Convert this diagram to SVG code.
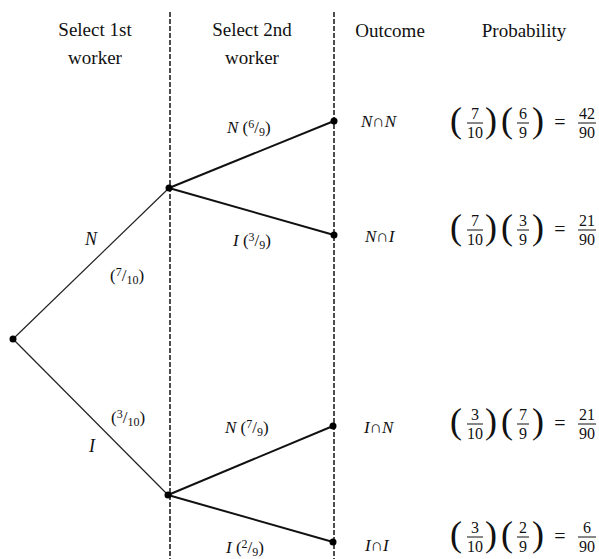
<svg xmlns="http://www.w3.org/2000/svg" width="599" height="559" viewBox="0 0 599 559">
<style>
text{font-family:"Liberation Serif","DejaVu Serif",serif;fill:#111}
.hd{font-size:19px;text-anchor:middle}
.lb{font-size:17px}
.big{font-size:18px}
.it{font-style:italic}
.sm{font-size:12px}
.oc{font-size:17px}
.fr{font-size:16px;text-anchor:middle}
.pr{font-size:36px}
.eq{font-size:20px;text-anchor:middle}
.dash{stroke:#222;stroke-width:1.6;stroke-dasharray:5 2;fill:none}
.b1{stroke:#222;stroke-width:1.2;fill:none}
.b2{stroke:#111;stroke-width:2;fill:none}
.bar{stroke:#111;stroke-width:1}
.dot{fill:#000}
</style>
<rect width="599" height="559" fill="#fff"/>
<g id="headers">
<text class="hd" x="95" y="36">Select 1st</text>
<text class="hd" x="95" y="64">worker</text>
<text class="hd" x="252" y="36">Select 2nd</text>
<text class="hd" x="252" y="64">worker</text>
<text class="hd" x="390" y="37">Outcome</text>
<text class="hd" x="524" y="37">Probability</text>
</g>
<g id="dividers">
<line class="dash" x1="170" y1="12" x2="170" y2="559"/>
<line class="dash" x1="334" y1="12" x2="334" y2="559"/>
</g>
<g id="connectors">
<line class="b1" x1="13" y1="339" x2="169" y2="188"/>
<line class="b1" x1="13" y1="339" x2="168" y2="495"/>
<line class="b2" x1="169" y1="188" x2="334" y2="121"/>
<line class="b2" x1="169" y1="188" x2="334" y2="235"/>
<line class="b2" x1="168" y1="495" x2="333" y2="426"/>
<line class="b2" x1="168" y1="495" x2="333" y2="542"/>
</g>
<g id="branch-labels">
<text class="big it" x="85" y="245">N</text>
<text class="lb" x="110" y="281">(<tspan class="sm" dy="-5">7</tspan><tspan dy="5">/</tspan><tspan class="sm" dy="3">10</tspan><tspan dy="-3">)</tspan></text>
<text class="lb" x="111" y="423">(<tspan class="sm" dy="-5">3</tspan><tspan dy="5">/</tspan><tspan class="sm" dy="3">10</tspan><tspan dy="-3">)</tspan></text>
<text class="big it" x="89" y="452">I</text>
<text class="lb" x="227" y="133"><tspan class="it">N</tspan> (<tspan class="sm" dy="-5">6</tspan><tspan dy="5">/</tspan><tspan class="sm" dy="3">9</tspan><tspan dy="-3">)</tspan></text>
<text class="lb" x="233" y="246"><tspan class="it">I</tspan> (<tspan class="sm" dy="-5">3</tspan><tspan dy="5">/</tspan><tspan class="sm" dy="3">9</tspan><tspan dy="-3">)</tspan></text>
<text class="lb" x="225" y="433"><tspan class="it">N</tspan> (<tspan class="sm" dy="-5">7</tspan><tspan dy="5">/</tspan><tspan class="sm" dy="3">9</tspan><tspan dy="-3">)</tspan></text>
<text class="lb" x="226" y="553"><tspan class="it">I</tspan> (<tspan class="sm" dy="-5">2</tspan><tspan dy="5">/</tspan><tspan class="sm" dy="3">9</tspan><tspan dy="-3">)</tspan></text>
</g>
<g id="root"><circle class="dot" cx="13" cy="339" r="3.5"/></g>
<g id="node-N"><circle class="dot" cx="169" cy="188" r="3.5"/></g>
<g id="node-I"><circle class="dot" cx="168" cy="495" r="3.5"/></g>
<g id="out-NN"><circle class="dot" cx="334" cy="121" r="3.5"/>
<text class="oc" x="361" y="127"><tspan class="it">N</tspan>∩<tspan class="it">N</tspan></text></g>
<g id="out-NI"><circle class="dot" cx="334" cy="235" r="3.5"/>
<text class="oc" x="365" y="242"><tspan class="it">N</tspan>∩<tspan class="it">I</tspan></text></g>
<g id="out-IN"><circle class="dot" cx="333" cy="426" r="3.5"/>
<text class="oc" x="364" y="433"><tspan class="it">I</tspan>∩<tspan class="it">N</tspan></text></g>
<g id="out-II"><circle class="dot" cx="333" cy="542" r="3.5"/>
<text class="oc" x="365" y="551"><tspan class="it">I</tspan>∩<tspan class="it">I</tspan></text></g>
<g id="prob-NN" transform="translate(0,123)">
<text class="pr" x="450" y="8.5">(</text><text class="fr" x="475" y="-4">7</text><line class="bar" x1="467" y1="0" x2="483" y2="0"/><text class="fr" x="475" y="15">10</text><text class="pr" x="485" y="8.5">)</text>
<text class="pr" x="501" y="8.5">(</text><text class="fr" x="523" y="-4">6</text><line class="bar" x1="517" y1="0" x2="529" y2="0"/><text class="fr" x="523" y="15">9</text><text class="pr" x="532" y="8.5">)</text>
<text class="eq" x="560" y="6">=</text>
<text class="fr" x="587" y="-4">42</text><line class="bar" x1="578" y1="0" x2="596" y2="0"/><text class="fr" x="587" y="15">90</text>
</g>
<g id="prob-NI" transform="translate(0,230)">
<text class="pr" x="450" y="8.5">(</text><text class="fr" x="475" y="-4">7</text><line class="bar" x1="467" y1="0" x2="483" y2="0"/><text class="fr" x="475" y="15">10</text><text class="pr" x="485" y="8.5">)</text>
<text class="pr" x="501" y="8.5">(</text><text class="fr" x="523" y="-4">3</text><line class="bar" x1="517" y1="0" x2="529" y2="0"/><text class="fr" x="523" y="15">9</text><text class="pr" x="532" y="8.5">)</text>
<text class="eq" x="560" y="6">=</text>
<text class="fr" x="587" y="-4">21</text><line class="bar" x1="578" y1="0" x2="596" y2="0"/><text class="fr" x="587" y="15">90</text>
</g>
<g id="prob-IN" transform="translate(0,424)">
<text class="pr" x="450" y="8.5">(</text><text class="fr" x="475" y="-4">3</text><line class="bar" x1="467" y1="0" x2="483" y2="0"/><text class="fr" x="475" y="15">10</text><text class="pr" x="485" y="8.5">)</text>
<text class="pr" x="501" y="8.5">(</text><text class="fr" x="523" y="-4">7</text><line class="bar" x1="517" y1="0" x2="529" y2="0"/><text class="fr" x="523" y="15">9</text><text class="pr" x="532" y="8.5">)</text>
<text class="eq" x="560" y="6">=</text>
<text class="fr" x="587" y="-4">21</text><line class="bar" x1="578" y1="0" x2="596" y2="0"/><text class="fr" x="587" y="15">90</text>
</g>
<g id="prob-II" transform="translate(0,537)">
<text class="pr" x="450" y="8.5">(</text><text class="fr" x="475" y="-4">3</text><line class="bar" x1="467" y1="0" x2="483" y2="0"/><text class="fr" x="475" y="15">10</text><text class="pr" x="485" y="8.5">)</text>
<text class="pr" x="501" y="8.5">(</text><text class="fr" x="523" y="-4">2</text><line class="bar" x1="517" y1="0" x2="529" y2="0"/><text class="fr" x="523" y="15">9</text><text class="pr" x="532" y="8.5">)</text>
<text class="eq" x="560" y="6">=</text>
<text class="fr" x="587" y="-4">6</text><line class="bar" x1="578" y1="0" x2="596" y2="0"/><text class="fr" x="587" y="15">90</text>
</g>
</svg>
